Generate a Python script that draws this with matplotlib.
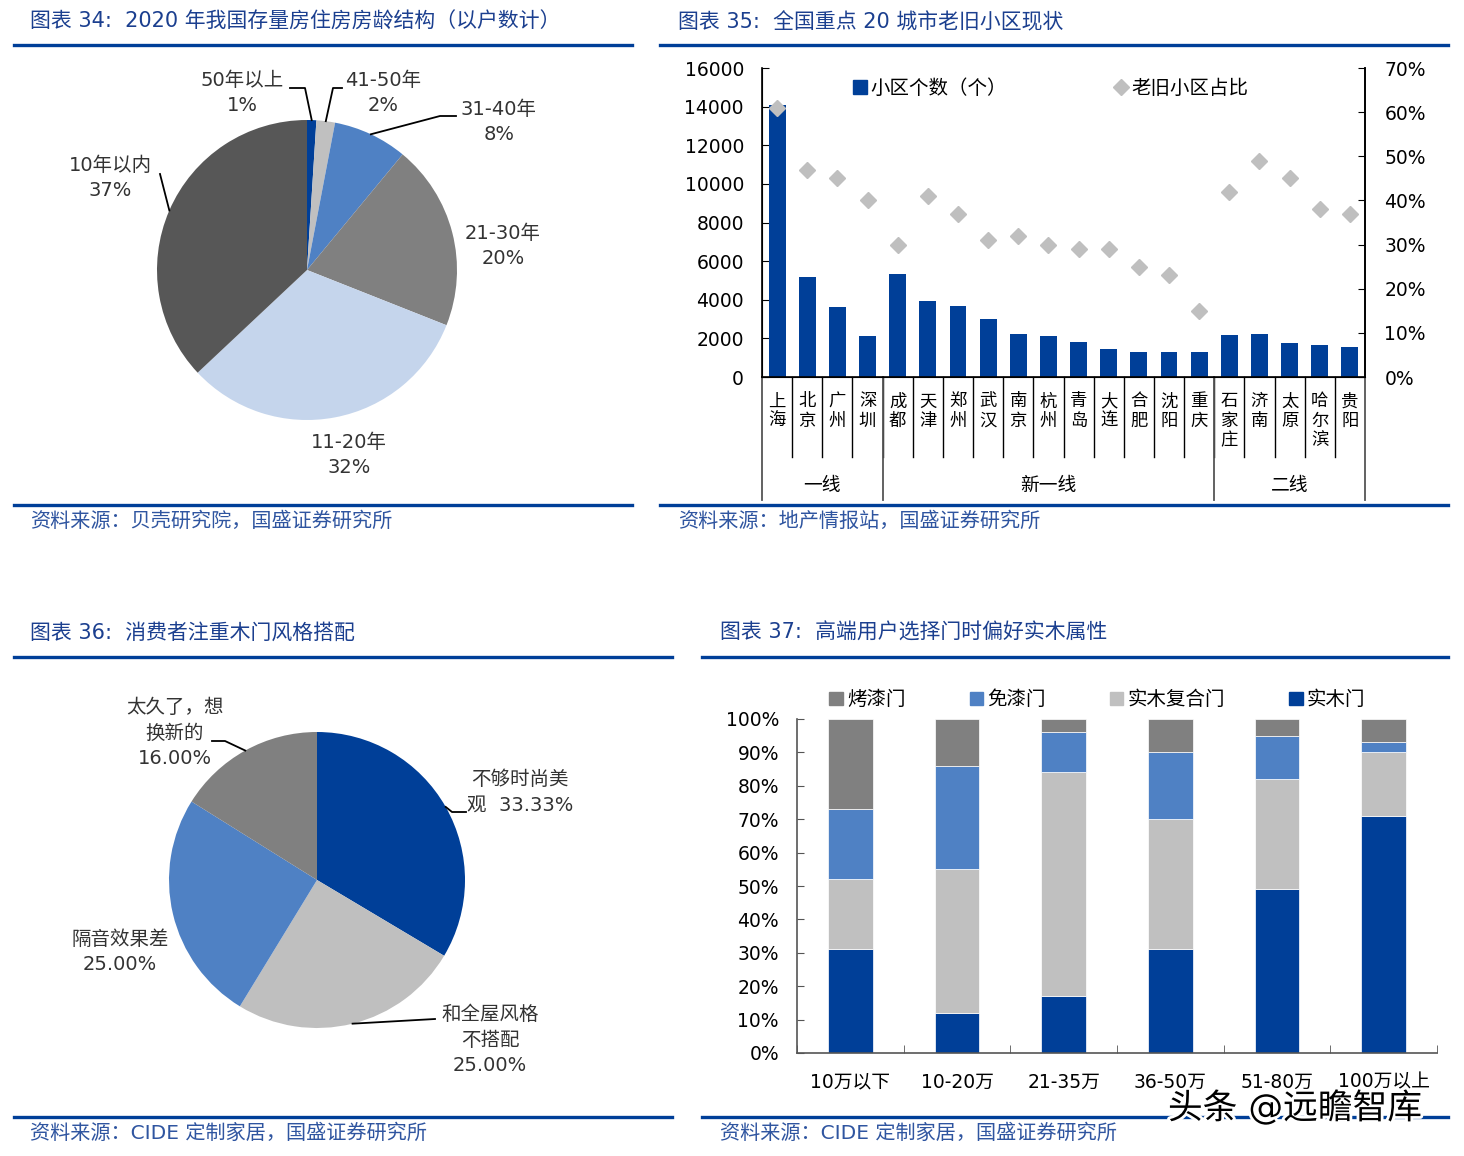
import matplotlib.pyplot as plt
import matplotlib.patheffects as pe
from matplotlib.patches import Patch
from matplotlib.lines import Line2D
import numpy as np

plt.rcParams['font.family'] = ['DejaVu Sans', 'Noto Sans CJK SC']

W, H = 1464, 1156
BLUE = '#003F98'
MID = '#4F81C4'
GREY = '#808080'
LGREY = '#C0C0C0'
TXT = '#333333'
TITLE_C = '#1B3F8F'
SRC_C = '#2F55A0'

# ---- data: chart 34 ----
age_labels = ['50年以上', '41-50年', '31-40年', '21-30年', '11-20年', '10年以内']
age_share = [1, 2, 8, 20, 32, 37]
age_colors = [BLUE, LGREY, MID, GREY, '#C5D5EC', '#575757']

# ---- data: chart 35 ----
cities = ['上海', '北京', '广州', '深圳', '成都', '天津', '郑州', '武汉', '南京', '杭州',
          '青岛', '大连', '合肥', '沈阳', '重庆', '石家庄', '济南', '太原', '哈尔滨', '贵阳']
n_estates = [14100, 5200, 3650, 2100, 5350, 3950, 3700, 3000, 2250, 2100,
             1800, 1450, 1300, 1300, 1300, 2200, 2250, 1750, 1650, 1550]
old_ratio = [0.61, 0.47, 0.45, 0.40, 0.30, 0.41, 0.37, 0.31, 0.32, 0.30,
             0.29, 0.29, 0.25, 0.23, 0.15, 0.42, 0.49, 0.45, 0.38, 0.37]
groups = ['一线', '新一线', '二线']
group_sizes = [4, 11, 5]

# ---- data: chart 36 ----
reason_labels = ['不够时尚美\n观  33.33%', '和全屋风格\n不搭配\n25.00%',
                 '隔音效果差\n25.00%', '太久了，想\n换新的\n16.00%']
reason_share = [33.33, 25.00, 25.00, 16.00]
reason_colors = [BLUE, '#BFBFBF', MID, GREY]

# ---- data: chart 37 ----
income = ['10万以下', '10-20万', '21-35万', '36-50万', '51-80万', '100万以上']
door_types = ['实木门', '实木复合门', '免漆门', '烤漆门']
door_share = {
    '实木门':     [31, 12, 17, 31, 49, 71],
    '实木复合门': [21, 43, 67, 39, 33, 19],
    '免漆门':     [21, 31, 12, 20, 13, 3],
    '烤漆门':     [27, 14, 4, 10, 5, 7],
}
door_colors = {'实木门': BLUE, '实木复合门': LGREY, '免漆门': MID, '烤漆门': GREY}

fig = plt.figure(figsize=(W / 100, H / 100), dpi=100)


def px_axes(x0, y0, x1, y1):
    return fig.add_axes([x0 / W, 1 - y1 / H, (x1 - x0) / W, (y1 - y0) / H])


def hline(x0, x1, y, lw=2.4):
    fig.add_artist(Line2D([x0 / W, x1 / W], [1 - y / H, 1 - y / H], color=BLUE,
                          lw=lw, transform=fig.transFigure))


def ftext(x, y, s, **kw):
    fig.text(x / W, 1 - y / H, s, **kw)


# titles, rules, sources
ftext(30, 22, '图表 34:  2020 年我国存量房住房房龄结构（以户数计）', fontsize=15, color=TITLE_C, va='center')
ftext(678, 22, '图表 35:  全国重点 20 城市老旧小区现状', fontsize=15, color=TITLE_C, va='center')
ftext(30, 633, '图表 36:  消费者注重木门风格搭配', fontsize=15, color=TITLE_C, va='center')
ftext(720, 633, '图表 37:  高端用户选择门时偏好实木属性', fontsize=15, color=TITLE_C, va='center')
ftext(30, 521, '资料来源：贝壳研究院，国盛证券研究所', fontsize=14.5, color=SRC_C, va='center')
ftext(678, 521, '资料来源：地产情报站，国盛证券研究所', fontsize=14.5, color=SRC_C, va='center')
ftext(30, 1133, '资料来源：CIDE 定制家居，国盛证券研究所', fontsize=14.5, color=SRC_C, va='center')
ftext(720, 1133, '资料来源：CIDE 定制家居，国盛证券研究所', fontsize=14.5, color=SRC_C, va='center')
hline(14, 632, 45)
hline(660, 1448, 45)
hline(14, 632, 505)
hline(660, 1448, 505)
hline(14, 672, 657)
hline(702, 1448, 657)
hline(14, 672, 1117)
hline(702, 1448, 1117)


def pie_panel(cx, cy, r, half, values, colors):
    ax = px_axes(cx - half, cy - half, cx + half, cy + half)
    wedges, _ = ax.pie(values, colors=colors, startangle=90, counterclock=False,
                       radius=1, wedgeprops=dict(linewidth=0))
    lim = half / r
    ax.set_xlim(-lim, lim)
    ax.set_ylim(-lim, lim)
    ax.axis('off')
    return ax, wedges


def to_data(cx, cy, r, px, py):
    return (px - cx) / r, (cy - py) / r


def leader(ax, cx, cy, r, wedge, pts):
    ang = np.deg2rad((wedge.theta1 + wedge.theta2) / 2)
    xs = [np.cos(ang)] + [to_data(cx, cy, r, p[0], p[1])[0] for p in pts]
    ys = [np.sin(ang)] + [to_data(cx, cy, r, p[0], p[1])[1] for p in pts]
    ax.plot(xs, ys, color='black', lw=1.3, clip_on=False)


# ---- chart 34 pie ----
c1 = (307, 270, 150)
ax1, w1 = pie_panel(*c1, 240, age_share, age_colors)
pos1 = [(242, 93), (383, 93), (499, 122), (503, 246), (349, 455), (110, 178)]
for lab, val, (px, py) in zip(age_labels, age_share, pos1):
    x, y = to_data(*c1, px, py)
    ax1.text(x, y, f'{lab}\n{val}%', ha='center', va='center', fontsize=14,
             color=TXT, linespacing=1.45, clip_on=False)
leader(ax1, *c1, w1[0], [(305, 88), (290, 88)])
leader(ax1, *c1, w1[1], [(333, 88), (342, 88)])
leader(ax1, *c1, w1[2], [(440, 116), (456, 116)])
leader(ax1, *c1, w1[5], [(160, 174)])

# ---- chart 36 pie ----
c2 = (317, 880, 148)
ax3, w3 = pie_panel(*c2, 240, reason_share, reason_colors)
pos3 = [(520, 792), (490, 1040), (120, 952), (175, 733)]
for lab, (px, py) in zip(reason_labels, pos3):
    x, y = to_data(*c2, px, py)
    ax3.text(x, y, lab, ha='center', va='center', fontsize=14,
             color=TXT, linespacing=1.45, clip_on=False)
leader(ax3, *c2, w3[0], [(452, 812), (466, 812)])
leader(ax3, *c2, w3[1], [(435, 1019)])
leader(ax3, *c2, w3[3], [(225, 741), (212, 741)])

# ---- chart 35 bars + diamonds ----
ax2 = px_axes(762, 68, 1365, 377)
x = np.arange(len(cities))
ax2.bar(x, n_estates, width=0.56, color=BLUE, label='小区个数（个）', zorder=2)
ax2.set_xlim(-0.5, len(cities) - 0.5)
ax2.set_ylim(0, 16000)
ax2.set_yticks(np.arange(0, 16001, 2000))
ax2.set_xticks([])
ax2.spines['top'].set_visible(False)
for s in ['left', 'right', 'bottom']:
    ax2.spines[s].set_linewidth(1.2)
ax2.tick_params(axis='y', direction='in', length=5, labelsize=13.5, pad=13)
ax2r = ax2.twinx()
ax2r.plot(x, old_ratio, linestyle='none', marker='D', ms=8, color='#BFBFBF',
          label='老旧小区占比', zorder=3)
ax2r.set_ylim(0, 0.7)
ax2r.set_yticks(np.arange(0, 0.71, 0.1))
ax2r.set_yticklabels([f'{int(round(v * 100))}%' for v in np.arange(0, 0.71, 0.1)])
ax2r.spines['top'].set_visible(False)
ax2r.spines['right'].set_linewidth(1.2)
ax2r.tick_params(axis='y', direction='in', length=5, labelsize=13.5, pad=14)

tr = ax2.get_xaxis_transform()
for xi in x[:-1] + 0.5:
    ax2.plot([xi, xi], [0, -0.259], color='black', lw=1, transform=tr, clip_on=False)
edges = np.concatenate([[0], np.cumsum(group_sizes)]) - 0.5
for xe in edges:
    ax2.plot([xe, xe], [0, -0.398], color='#555555', lw=1.3, transform=tr, clip_on=False)
for xi, name in zip(x, cities):
    ax2.text(xi, -0.05, '\n'.join(name), ha='center', va='top', fontsize=12.5,
             linespacing=1.1, transform=tr)
for g, a, b in zip(groups, edges[:-1], edges[1:]):
    ax2.text((a + b) / 2, -0.35, g, ha='center', va='center', fontsize=13.5, transform=tr)

h1, l1 = ax2.get_legend_handles_labels()
h2, l2 = ax2r.get_legend_handles_labels()
leg_handles = [Patch(color=BLUE), h2[0]]
ax2r.legend(leg_handles, l1 + l2, loc='center', bbox_to_anchor=(0.479, 0.935), ncol=2,
            frameon=False, fontsize=14, handlelength=0.7, handleheight=0.7,
            handletextpad=0.2, columnspacing=5.5)

# ---- chart 37 stacked bars ----
ax4 = px_axes(797, 719, 1437, 1053)
xi = np.arange(len(income))
bottom = np.zeros(len(income))
for t in door_types:
    vals = np.array(door_share[t]) / 100
    ax4.bar(xi, vals, bottom=bottom, width=0.42, color=door_colors[t], label=t,
            edgecolor='white', linewidth=0.5)
    bottom += vals
ax4.set_xlim(-0.5, len(income) - 0.5)
ax4.set_ylim(0, 1)
ax4.set_yticks(np.arange(0, 1.01, 0.1))
ax4.set_yticklabels([f'{int(round(v * 100))}%' for v in np.arange(0, 1.01, 0.1)])
ax4.set_xticks(xi)
ax4.set_xticklabels(income)
ax4.set_xticks(np.arange(len(income) + 1) - 0.5, minor=True)
ax4.tick_params(axis='x', which='major', length=0, labelsize=13.5, pad=14)
ax4.tick_params(axis='x', which='minor', direction='in', length=6, color='#555555')
ax4.tick_params(axis='y', direction='in', length=5, labelsize=13.5, pad=13, color='#555555')
for s in ['top', 'right']:
    ax4.spines[s].set_visible(False)
for s in ['left', 'bottom']:
    ax4.spines[s].set_color('#555555')
    ax4.spines[s].set_linewidth(1.2)
leg_order = ['烤漆门', '免漆门', '实木复合门', '实木门']
ax4.legend([Patch(color=door_colors[t]) for t in leg_order], leg_order, loc='center',
           bbox_to_anchor=(0.469, 1.057), ncol=4, frameon=False, fontsize=14,
           handlelength=0.7, handleheight=0.7, handletextpad=0.2, columnspacing=3.3)

# watermark
ftext(1295, 1108, '头条 @远瞻智库', fontsize=25, color='black', ha='center', va='center',
      path_effects=[pe.withStroke(linewidth=4, foreground='white')])

fig.savefig('out.png', dpi=100)
